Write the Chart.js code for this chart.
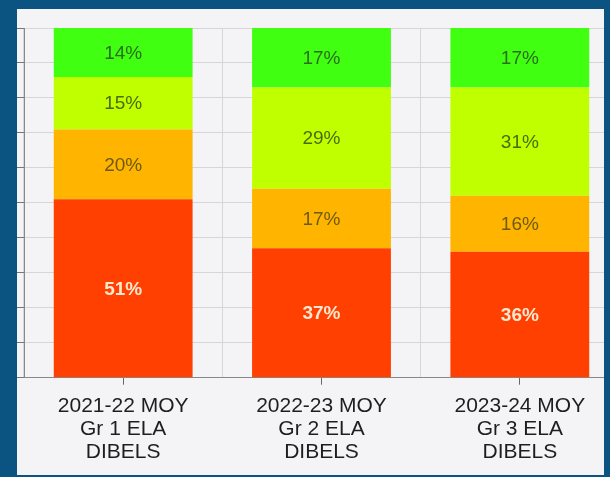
<!DOCTYPE html>
<html>
<head>
<meta charset="utf-8">
<script src="https://cdn.jsdelivr.net/npm/chart.js@4/dist/chart.umd.min.js"></script>
<style>
  html, body { margin: 0; padding: 0; }
  body { width: 610px; height: 477px; background: #0b5482; position: relative; overflow: hidden; }
  #panel { position: absolute; left: 17px; top: 9px; width: 587px; height: 466px; background: #f4f4f6; overflow: hidden; }
  #wrap { position: absolute; left: 0; top: 0; width: 602px; height: 466px; }
</style>
</head>
<body>
<div id="panel"><div id="wrap"><canvas id="chart"></canvas></div></div>
<script>
// categories on the x axis
const categories = [
  ["2021-22 MOY", "Gr 1 ELA", "DIBELS"],
  ["2022-23 MOY", "Gr 2 ELA", "DIBELS"],
  ["2023-24 MOY", "Gr 3 ELA", "DIBELS"],
];

// percent of students in each band, bottom to top
const redVals = [51, 37, 36];
const orangeVals = [20, 17, 16];
const yellowVals = [15, 29, 31];
const greenVals = [14, 17, 17];

const barColors = ["#ff4000", "#ffb400", "#bfff00", "#40ff10"];
const labelColors = ["#ffe8d0", "#6e5a14", "#4c6a0c", "#2c6e1c"];

// draws the % label in the middle of each segment
const segmentLabels = {
  id: "segmentLabels",
  afterDatasetsDraw(chart) {
    const ctx = chart.ctx;
    ctx.save();
    ctx.textAlign = "center";
    ctx.textBaseline = "middle";
    chart.data.datasets.forEach((ds, i) => {
      const meta = chart.getDatasetMeta(i);
      ctx.font = (i === 0 ? "bold " : "") + "19px Arial, 'Liberation Sans'";
      ctx.fillStyle = labelColors[i];
      meta.data.forEach((bar, j) => {
        const p = bar.getProps(["x", "y", "base"], true);
        ctx.fillText(ds.data[j] + "%", p.x, (p.y + p.base) / 2 + 1);
      });
    });
    ctx.restore();
  },
};

const makeSet = (data, i) => ({
  data: data,
  backgroundColor: barColors[i],
  barPercentage: 0.7,
  categoryPercentage: 1,
});

new Chart("chart", {
  type: "bar",
  data: {
    labels: categories,
    datasets: [
      makeSet(redVals, 0),
      makeSet(orangeVals, 1),
      makeSet(yellowVals, 2),
      makeSet(greenVals, 3),
    ],
  },
  options: {
    responsive: true,
    maintainAspectRatio: false,
    animation: false,
    layout: { padding: { top: 19, bottom: 1, left: 0, right: 0 } },
    plugins: {
      legend: { display: false },
      tooltip: { enabled: false },
    },
    scales: {
      x: {
        stacked: true,
        offset: true,
        grid: { offset: false, drawOnChartArea: false, tickLength: 7, tickColor: "#666" },
        border: { color: "#888" },
        ticks: {
          color: "#1e1e1e",
          padding: 10,
          maxRotation: 0,
          autoSkip: false,
          font: { family: "Arial, 'Liberation Sans'", size: 21, lineHeight: 1.1 },
        },
      },
      x2: {
        type: "category",
        position: "top",
        offset: true,
        grid: { offset: true, drawTicks: false, color: "#d6d6d8" },
        border: { display: false },
        ticks: { display: false },
      },
      y: {
        stacked: true,
        min: 0,
        max: 100,
        ticks: { display: false, stepSize: 10 },
        grid: { color: "#d6d6d8", tickLength: 7, tickColor: "#777" },
        border: { color: "#888" },
      },
    },
  },
  plugins: [segmentLabels],
});
</script>
</body>
</html>
